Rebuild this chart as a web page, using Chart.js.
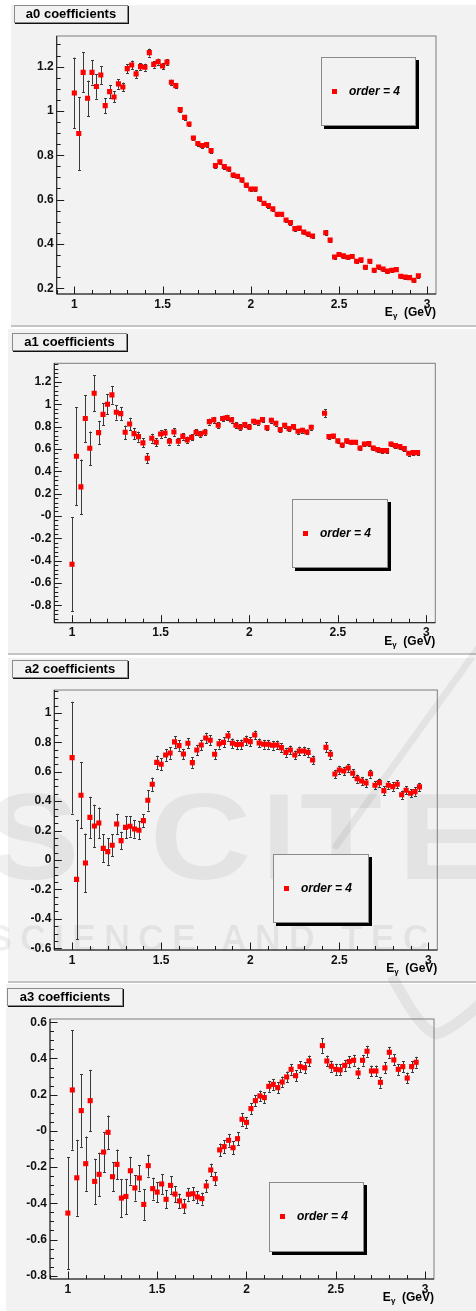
<!DOCTYPE html>
<html>
<head>
<meta charset="utf-8">
<script src="https://cdn.jsdelivr.net/npm/chart.js@4.4.1/dist/chart.umd.min.js"></script>
<style>
  html, body { margin: 0; padding: 0; background: #fff; }
  body { position: relative; width: 476px; height: 1311px; overflow: hidden; font-family: "Liberation Sans", Arial, sans-serif; }
  .pad { position: absolute; background: #f2f2f2; border-bottom: 2px solid #c4c4c4; z-index: 0; }
  .wm { position: absolute; z-index: 1; color: rgba(0, 0, 0, 0.06); font-weight: bold; line-height: 1; white-space: pre; pointer-events: none; }
  .swoosh { position: absolute; left: 0; top: 0; z-index: 1; pointer-events: none; }
  canvas { position: absolute; left: 0; z-index: 2; }
  .title { position: absolute; z-index: 3; height: 16px; line-height: 16px; background: #f2f2f2; border: 1px solid #8a8a8a;
           box-shadow: 1px 1px 0 #111; font-weight: bold; font-size: 13px; color: #000; text-align: center; }
  .legend { position: absolute; z-index: 3; background: #f2f2f2; border: 1px solid #8a8a8a; box-shadow: 3px 3px 0 #000; }
  .legend .mk { position: absolute; width: 5px; height: 5px; background: #f00; }
  .legend .tx { position: absolute; font: italic bold 12px "Liberation Sans", Arial, sans-serif; color: #000; line-height: 14px; }
  .axtitle { position: absolute; z-index: 3; font: bold 12px "Liberation Sans", Arial, sans-serif; line-height: 14px; color: #000; text-align: right; white-space: pre; }
  .axtitle sub { font-size: 8px; vertical-align: -2px; line-height: 0; }
</style>
</head>
<body>
<svg class="swoosh" width="476" height="1311" viewBox="0 0 476 1311">
  <path d="M 484 640 L 336 846" stroke="rgba(0,0,0,0.06)" stroke-width="7" fill="none" stroke-linecap="round"/>
  <path d="M 392 976 Q 420 1030 436 1034 Q 452 1030 480 1004" stroke="rgba(0,0,0,0.06)" stroke-width="11" fill="none"/>
</svg>
<script>
// Photon beam energy bins (GeV)
const energies = [
  1.000, 1.025, 1.050, 1.075, 1.100, 1.125, 1.150, 1.175, 1.200, 1.225,
  1.250, 1.275, 1.300, 1.325, 1.350, 1.375, 1.400, 1.425, 1.450, 1.475,
  1.500, 1.525, 1.550, 1.575, 1.600, 1.625, 1.650, 1.675, 1.700, 1.725,
  1.750, 1.775, 1.800, 1.825, 1.850, 1.875, 1.900, 1.925, 1.950, 1.975,
  2.000, 2.025, 2.050, 2.075, 2.100, 2.125, 2.150, 2.175, 2.200, 2.225,
  2.250, 2.275, 2.300, 2.325, 2.350,
  2.425, 2.450, 2.475, 2.500, 2.525, 2.550, 2.575, 2.600, 2.625, 2.650,
  2.675, 2.700, 2.725, 2.750, 2.775, 2.800, 2.825, 2.850, 2.875, 2.900,
  2.925, 2.950
];

// a0 coefficients and their errors
const a0 = [
  1.081, 0.898, 1.174, 1.057, 1.174, 1.110, 1.162, 1.024, 1.087, 1.063,
  1.122, 1.108, 1.191, 1.207, 1.167, 1.200, 1.197, 1.263, 1.210, 1.222,
  1.203, 1.220, 1.129, 1.114, 1.006, 0.971, 0.941, 0.878, 0.853, 0.844,
  0.848, 0.821, 0.753, 0.770, 0.749, 0.738, 0.711, 0.705, 0.689, 0.665,
  0.648, 0.648, 0.604, 0.583, 0.573, 0.558, 0.534, 0.534, 0.508, 0.496,
  0.469, 0.471, 0.454, 0.445, 0.436,
  0.450, 0.417, 0.341, 0.352, 0.346, 0.340, 0.343, 0.322, 0.328, 0.295,
  0.322, 0.281, 0.296, 0.287, 0.277, 0.281, 0.284, 0.254, 0.251, 0.248,
  0.236, 0.256
];
const a0Err = [
  0.160, 0.165, 0.090, 0.080, 0.055, 0.055, 0.040, 0.034, 0.030, 0.025,
  0.022, 0.020, 0.020, 0.020, 0.018, 0.016, 0.016, 0.018, 0.015, 0.014,
  0.014, 0.013, 0.012, 0.012, 0.011, 0.011, 0.010, 0.010, 0.010, 0.010,
  0.010, 0.010, 0.010, 0.010, 0.010, 0.010, 0.010, 0.009, 0.009, 0.009,
  0.009, 0.009, 0.009, 0.009, 0.009, 0.009, 0.009, 0.009, 0.009, 0.009,
  0.009, 0.009, 0.009, 0.009, 0.009,
  0.012, 0.009, 0.008, 0.008, 0.008, 0.008, 0.008, 0.008, 0.008, 0.008,
  0.008, 0.008, 0.008, 0.008, 0.008, 0.008, 0.008, 0.008, 0.008, 0.008,
  0.008, 0.008
];

// a1 coefficients and their errors
const a1 = [
  -0.433, 0.534, 0.260, 0.872, 0.606, 1.099, 0.746, 0.910, 1.000, 1.084,
  0.928, 0.916, 0.749, 0.824, 0.737, 0.710, 0.654, 0.516, 0.696, 0.660,
  0.734, 0.743, 0.669, 0.752, 0.669, 0.713, 0.681, 0.704, 0.749, 0.734,
  0.749, 0.845, 0.860, 0.812, 0.872, 0.881, 0.860, 0.812, 0.794, 0.818,
  0.797, 0.848, 0.839, 0.863, 0.791, 0.857, 0.830, 0.773, 0.812, 0.782,
  0.800, 0.758, 0.767, 0.752, 0.794,
  0.919, 0.710, 0.716, 0.672, 0.636, 0.672, 0.660, 0.660, 0.609, 0.645,
  0.648, 0.609, 0.594, 0.585, 0.585, 0.645, 0.630, 0.621, 0.603, 0.561,
  0.567, 0.567
];
const a1Err = [
  0.420, 0.440, 0.245, 0.210, 0.150, 0.160, 0.105, 0.100, 0.090, 0.080,
  0.065, 0.060, 0.060, 0.055, 0.050, 0.045, 0.040, 0.045, 0.040, 0.035,
  0.035, 0.035, 0.030, 0.035, 0.030, 0.030, 0.030, 0.028, 0.028, 0.028,
  0.027, 0.027, 0.027, 0.026, 0.026, 0.026, 0.025, 0.025, 0.025, 0.025,
  0.022, 0.022, 0.022, 0.022, 0.022, 0.022, 0.022, 0.022, 0.022, 0.022,
  0.022, 0.022, 0.022, 0.022, 0.022,
  0.035, 0.022, 0.020, 0.020, 0.020, 0.020, 0.020, 0.020, 0.020, 0.020,
  0.020, 0.020, 0.020, 0.020, 0.020, 0.020, 0.020, 0.020, 0.020, 0.020,
  0.020, 0.020
];

// a2 coefficients and their errors
const a2 = [
  0.696, -0.132, 0.440, -0.020, 0.290, 0.231, 0.252, 0.079, 0.057, 0.100,
  0.245, 0.132, 0.222, 0.229, 0.211, 0.202, 0.268, 0.406, 0.515, 0.664,
  0.651, 0.714, 0.728, 0.803, 0.778, 0.721, 0.794, 0.662, 0.748, 0.782,
  0.830, 0.814, 0.719, 0.791, 0.800, 0.844, 0.794, 0.785, 0.787, 0.814,
  0.805, 0.850, 0.796, 0.787, 0.787, 0.780, 0.782, 0.764, 0.732, 0.748,
  0.714, 0.741, 0.741, 0.732, 0.680,
  0.766, 0.719, 0.585, 0.612, 0.605, 0.626, 0.590, 0.553, 0.537, 0.524,
  0.587, 0.508, 0.526, 0.472, 0.508, 0.499, 0.515, 0.444, 0.474, 0.454,
  0.465, 0.497
];
const a2Err = [
  0.380, 0.405, 0.225, 0.200, 0.140, 0.145, 0.105, 0.095, 0.090, 0.075,
  0.070, 0.060, 0.075, 0.070, 0.060, 0.060, 0.045, 0.070, 0.045, 0.045,
  0.040, 0.040, 0.040, 0.040, 0.035, 0.035, 0.035, 0.035, 0.035, 0.035,
  0.035, 0.035, 0.033, 0.033, 0.033, 0.033, 0.032, 0.032, 0.032, 0.032,
  0.030, 0.030, 0.030, 0.030, 0.030, 0.030, 0.030, 0.030, 0.030, 0.030,
  0.030, 0.030, 0.030, 0.030, 0.030,
  0.035, 0.030, 0.028, 0.028, 0.028, 0.028, 0.028, 0.028, 0.028, 0.028,
  0.028, 0.028, 0.028, 0.028, 0.028, 0.028, 0.028, 0.028, 0.028, 0.028,
  0.028, 0.028
];

// a3 coefficients and their errors
const a3 = [
  -0.454, 0.226, -0.259, 0.112, -0.181, 0.167, -0.279, -0.240, -0.117, -0.008,
  -0.253, -0.185, -0.371, -0.362, -0.220, -0.315, -0.260, -0.406, -0.192, -0.319,
  -0.338, -0.293, -0.378, -0.301, -0.349, -0.387, -0.415, -0.350, -0.347, -0.365,
  -0.374, -0.304, -0.216, -0.264, -0.105, -0.087, -0.052, -0.093, -0.043, 0.064,
  0.047, 0.123, 0.167, 0.193, 0.184, 0.246, 0.257, 0.239, 0.270, 0.298,
  0.340, 0.305, 0.355, 0.349, 0.386,
  0.471, 0.386, 0.357, 0.340, 0.337, 0.362, 0.383, 0.390, 0.320, 0.390,
  0.440, 0.331, 0.331, 0.268, 0.348, 0.434, 0.392, 0.340, 0.355, 0.292,
  0.355, 0.379
];
const a3Err = [
  0.310, 0.330, 0.210, 0.200, 0.150, 0.170, 0.125, 0.120, 0.110, 0.093,
  0.080, 0.082, 0.105, 0.097, 0.077, 0.070, 0.070, 0.085, 0.060, 0.060,
  0.055, 0.055, 0.050, 0.050, 0.045, 0.040, 0.040, 0.035, 0.035, 0.033,
  0.033, 0.035, 0.035, 0.035, 0.035, 0.035, 0.035, 0.035, 0.035, 0.035,
  0.030, 0.030, 0.030, 0.030, 0.030, 0.030, 0.030, 0.030, 0.030, 0.030,
  0.030, 0.030, 0.030, 0.030, 0.030,
  0.040, 0.030, 0.030, 0.030, 0.030, 0.030, 0.030, 0.030, 0.030, 0.030,
  0.030, 0.030, 0.030, 0.030, 0.030, 0.030, 0.030, 0.030, 0.030, 0.030,
  0.030, 0.030
];

// Axis ticks
const xTickValues = [1, 1.5, 2, 2.5, 3];
const xTickLabels = ['1', '1.5', '2', '2.5', '3'];
const a0TickValues = [0.2, 0.4, 0.6, 0.8, 1.0, 1.2];
const a0TickLabels = ['0.2', '0.4', '0.6', '0.8', '1', '1.2'];
const a1TickValues = [-0.8, -0.6, -0.4, -0.2, 0, 0.2, 0.4, 0.6, 0.8, 1.0, 1.2];
const a1TickLabels = ['-0.8', '-0.6', '-0.4', '-0.2', '-0', '0.2', '0.4', '0.6', '0.8', '1', '1.2'];
const a2TickValues = [-0.6, -0.4, -0.2, 0, 0.2, 0.4, 0.6, 0.8, 1.0];
const a2TickLabels = ['-0.6', '-0.4', '-0.2', '0', '0.2', '0.4', '0.6', '0.8', '1'];
const a3TickValues = [-0.8, -0.6, -0.4, -0.2, 0, 0.2, 0.4, 0.6];
const a3TickLabels = ['-0.8', '-0.6', '-0.4', '-0.2', '-0', '0.2', '0.4', '0.6'];

const seriesLabel = 'order = 4';

// Panel layout: pad box, frame box, axis ranges, title and legend boxes
const panels = [
  { name: 'a0 coefficients', values: a0, errors: a0Err, yTicks: a0TickValues, yLabels: a0TickLabels,
    yMin: 0.174, yMax: 1.338, yMinor: 0.05,
    pad: { left: 11, top: 5, bottom: 325 }, frame: { left: 56.7, right: 436, top: 36, bottom: 294 },
    title: { left: 14, top: 5, width: 112 }, legend: { left: 321, top: 57, width: 93, height: 67 } },
  { name: 'a1 coefficients', values: a1, errors: a1Err, yTicks: a1TickValues, yLabels: a1TickLabels,
    yMin: -0.956, yMax: 1.367, yMinor: 0.04,
    pad: { left: 8, top: 329, bottom: 653 }, frame: { left: 54.3, right: 435.3, top: 363.3, bottom: 622.7 },
    title: { left: 12, top: 333, width: 113 }, legend: { left: 292, top: 499, width: 94, height: 67 } },
  { name: 'a2 coefficients', values: a2, errors: a2Err, yTicks: a2TickValues, yLabels: a2TickLabels,
    yMin: -0.612, yMax: 1.156, yMinor: 0.05,
    pad: { left: 8, top: 658, bottom: 981 }, frame: { left: 54.3, right: 437.3, top: 690, bottom: 950 },
    title: { left: 12, top: 660, width: 114 }, legend: { left: 273, top: 854, width: 94, height: 67 } },
  { name: 'a3 coefficients', values: a3, errors: a3Err, yTicks: a3TickValues, yLabels: a3TickLabels,
    yMin: -0.818, yMax: 0.618, yMinor: 0.05,
    pad: { left: 6, top: 984, bottom: 1311 }, frame: { left: 50, right: 434, top: 1019, bottom: 1279 },
    title: { left: 7, top: 988, width: 114 }, legend: { left: 269, top: 1182, width: 93, height: 68 } }
];

const X_MIN = 0.9, X_MAX = 3.05, X_MINOR = 0.1;
const tickFont = { family: '"Liberation Sans", Arial, sans-serif', size: 12, weight: 'bold' };

// Frame, inward tick marks and vertical error bars in ROOT style
const rootStyle = {
  id: 'rootStyle',
  beforeDatasetsDraw(chart) {
    const ctx = chart.ctx, ys = chart.scales.y;
    ctx.save();
    ctx.strokeStyle = '#3a3a3a';
    ctx.lineWidth = 1;
    chart.data.datasets.forEach((ds, di) => {
      const meta = chart.getDatasetMeta(di);
      meta.data.forEach((pt, i) => {
        const v = ds.data[i].y, e = ds.errors[i];
        const x = Math.round(pt.x) + 0.5;
        const yTop = ys.getPixelForValue(v + e);
        const yBot = ys.getPixelForValue(v - e);
        ctx.beginPath();
        ctx.moveTo(x, yTop); ctx.lineTo(x, yBot);
        ctx.moveTo(x - 1.5, Math.round(yTop) + 0.5); ctx.lineTo(x + 1.5, Math.round(yTop) + 0.5);
        ctx.moveTo(x - 1.5, Math.round(yBot) + 0.5); ctx.lineTo(x + 1.5, Math.round(yBot) + 0.5);
        ctx.stroke();
      });
    });
    ctx.restore();
  },
  afterDatasetsDraw(chart) {
    const ctx = chart.ctx, a = chart.chartArea;
    const xs = chart.scales.x, ys = chart.scales.y;
    const opt = chart.options.plugins.rootStyle;
    ctx.save();
    ctx.lineWidth = 1;
    // frame
    ctx.strokeStyle = '#7c7c7c';
    ctx.strokeRect(a.left, a.top, a.right - a.left, a.bottom - a.top);
    // axis lines
    ctx.strokeStyle = '#1a1a1a';
    ctx.beginPath();
    ctx.moveTo(a.left, a.top); ctx.lineTo(a.left, a.bottom); ctx.lineTo(a.right, a.bottom);
    ctx.stroke();
    ctx.beginPath();
    // y ticks
    const yMajor = opt.yTicks;
    const isMajor = (v, list, s) => list.some(m => Math.abs(m - v) < s * 0.1);
    for (let k = Math.ceil(ys.min / opt.yMinor - 1e-6); k * opt.yMinor <= ys.max + 1e-9; k++) {
      const v = k * opt.yMinor;
      const y = Math.round(ys.getPixelForValue(v)) + 0.5;
      const len = isMajor(v, yMajor, opt.yMinor) ? 7.5 : 4;
      ctx.moveTo(a.left, y); ctx.lineTo(a.left + len, y);
    }
    // x ticks
    for (let k = Math.ceil(xs.min / X_MINOR - 1e-6); k * X_MINOR <= xs.max + 1e-9; k++) {
      const v = k * X_MINOR;
      const x = Math.round(xs.getPixelForValue(v)) + 0.5;
      const len = isMajor(v, xTickValues, X_MINOR) ? 7.5 : 4;
      ctx.moveTo(x, a.bottom); ctx.lineTo(x, a.bottom - len);
    }
    ctx.stroke();
    ctx.restore();
  }
};

// Faint publisher mark lying across the third panel
function addMark(text, left, top, size, spacing, scaleX) {
  const d = document.createElement('div');
  d.className = 'wm';
  d.textContent = text;
  Object.assign(d.style, { left: left + 'px', top: top + 'px', fontSize: size + 'px', letterSpacing: spacing + 'px',
                           transform: 'scaleX(' + scaleX + ')', transformOrigin: '0 0' });
  document.body.appendChild(d);
}

panels.forEach((p, idx) => {
  const H = p.pad.bottom - p.pad.top;
  const top0 = p.pad.top;

  const pad = document.createElement('div');
  pad.className = 'pad';
  Object.assign(pad.style, { left: p.pad.left + 'px', top: p.pad.top + 'px', width: (476 - p.pad.left) + 'px', height: H + 'px' });
  document.body.appendChild(pad);

  const cv = document.createElement('canvas');
  cv.width = 476; cv.height = H;
  cv.style.top = top0 + 'px';
  cv.style.width = '476px'; cv.style.height = H + 'px';
  document.body.appendChild(cv);

  const title = document.createElement('div');
  title.className = 'title';
  title.textContent = p.name;
  Object.assign(title.style, { left: p.title.left + 'px', top: p.title.top + 'px', width: p.title.width + 'px' });
  document.body.appendChild(title);

  const lg = document.createElement('div');
  lg.className = 'legend';
  Object.assign(lg.style, { left: p.legend.left + 'px', top: p.legend.top + 'px', width: p.legend.width + 'px', height: p.legend.height + 'px' });
  const mk = document.createElement('div');
  mk.className = 'mk';
  Object.assign(mk.style, { left: '10px', top: (p.legend.height / 2 - 3) + 'px' });
  const tx = document.createElement('div');
  tx.className = 'tx';
  tx.textContent = seriesLabel;
  Object.assign(tx.style, { left: '27px', top: (p.legend.height / 2 - 8) + 'px' });
  lg.appendChild(mk); lg.appendChild(tx);
  document.body.appendChild(lg);

  const ax = document.createElement('div');
  ax.className = 'axtitle';
  ax.innerHTML = 'E<sub>&gamma;</sub>  (GeV)';
  Object.assign(ax.style, { right: (476 - p.frame.right) + 'px', top: (p.frame.bottom + 11) + 'px' });
  document.body.appendChild(ax);

  const points = energies.map((e, i) => ({ x: e, y: p.values[i] }));

  new Chart(cv, {
    type: 'scatter',
    data: {
      datasets: [{
        label: seriesLabel,
        data: points,
        errors: p.errors,
        backgroundColor: '#ff0000',
        borderColor: '#ff0000',
        borderWidth: 0,
        pointStyle: 'rect',
        pointRadius: 3.6,
        pointHoverRadius: 3.6
      }]
    },
    options: {
      responsive: false,
      animation: false,
      devicePixelRatio: 1,
      events: [],
      layout: { padding: { left: 0, top: p.frame.top - top0, right: 476 - p.frame.right, bottom: 0 } },
      plugins: {
        legend: { display: false },
        tooltip: { enabled: false },
        rootStyle: { yTicks: p.yTicks, yMinor: p.yMinor }
      },
      scales: {
        x: {
          type: 'linear', position: 'bottom', min: X_MIN, max: X_MAX,
          afterBuildTicks: s => { s.ticks = xTickValues.map(v => ({ value: v })); },
          afterFit: s => { s.height = p.pad.bottom - p.frame.bottom; },
          ticks: { callback: (v, i) => xTickLabels[i], font: tickFont, color: '#111', padding: 3, maxRotation: 0, autoSkip: false },
          grid: { display: false, drawTicks: false },
          border: { display: false }
        },
        y: {
          type: 'linear', position: 'left', min: p.yMin, max: p.yMax,
          afterBuildTicks: s => { s.ticks = p.yTicks.map(v => ({ value: v })); },
          afterFit: s => { s.width = p.frame.left; },
          ticks: { callback: (v, i) => p.yLabels[i], font: tickFont, color: '#111', padding: 3, autoSkip: false },
          grid: { display: false, drawTicks: false },
          border: { display: false }
        }
      }
    },
    plugins: [rootStyle]
  });
});

addMark('S', -14, 776, 122, 0, 1.15);
addMark('C', 150, 776, 122, 0, 1.15);
addMark('I', 262, 776, 122, 0, 1.0);
addMark('T', 300, 776, 122, 0, 1.1);
addMark('E', 398, 776, 122, 0, 1.15);
addMark('SCIENCE AND TEC', -12, 921, 36, 8, 1.0);
</script>
</body>
</html>
